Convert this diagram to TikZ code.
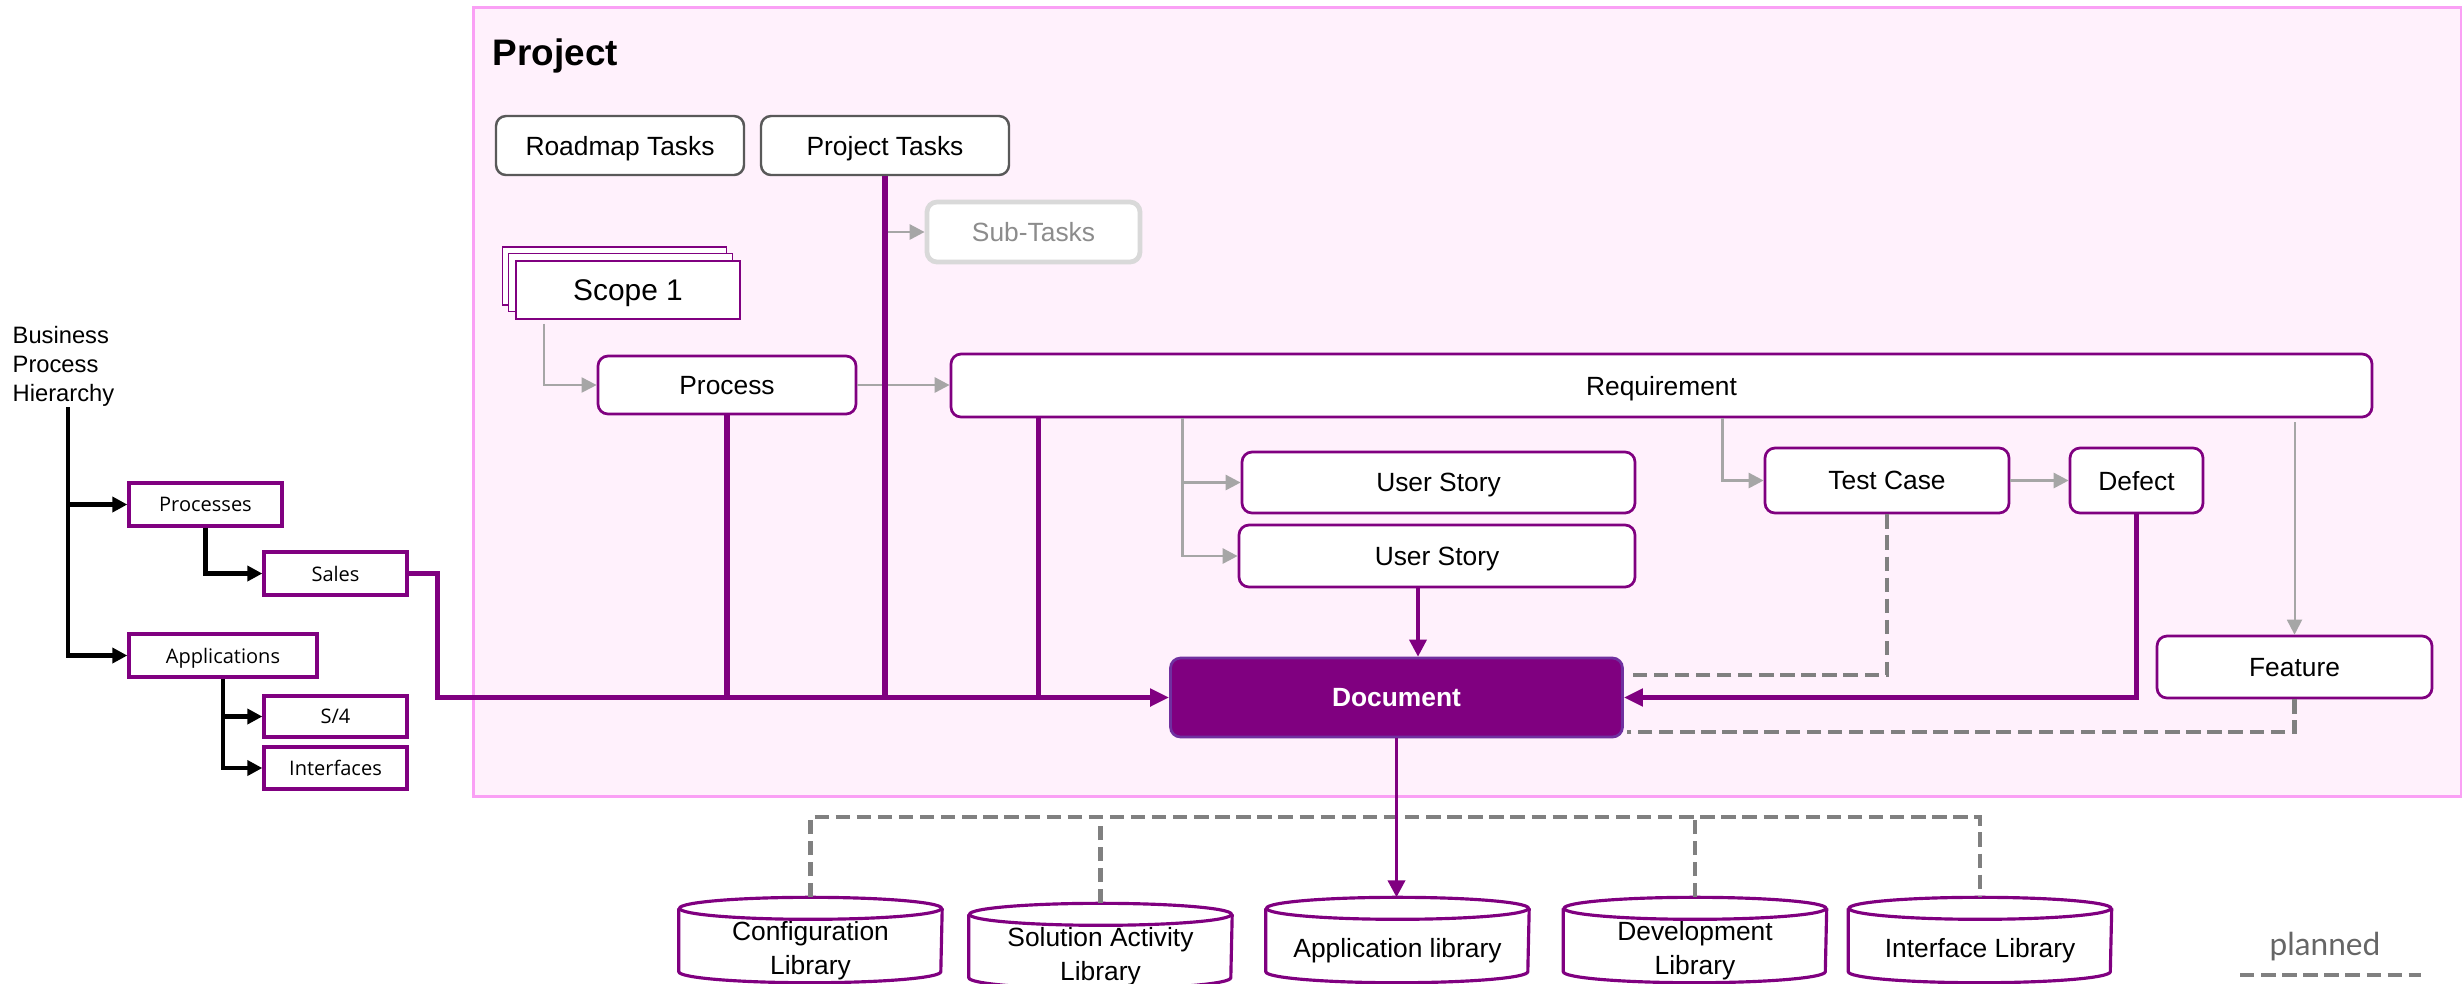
\documentclass[tikz,border=0pt]{standalone}
\usepackage{fontspec}
\setmainfont{Liberation Sans}
\newfontfamily\treefont{Open Sans}
\newfontfamily\legendfont{Lato}
\usepackage{xcolor}
\usetikzlibrary{positioning,calc,arrows.meta}
\definecolor{BPPurple}{RGB}{128,0,128}
\definecolor{DocEdge}{RGB}{112,48,160}
\definecolor{FrameFill}{RGB}{255,241,252}
\definecolor{FrameEdge}{RGB}{250,160,245}
\definecolor{ArrowGray}{RGB}{166,166,166}
\definecolor{PlanGray}{RGB}{128,128,128}
\definecolor{TaskGray}{RGB}{89,89,89}
\definecolor{SubGray}{RGB}{217,217,217}
\definecolor{SubText}{RGB}{140,140,140}
\definecolor{LegendText}{RGB}{102,102,102}
\tikzset{
    box/.style={rectangle, rounded corners=0.1cm, draw=BPPurple, fill=white, line width=0.77pt, inner sep=0pt, text depth=0pt, align=center, font=\fontsize{7.5}{9.7}\selectfont},
    taskbox/.style={box, draw=TaskGray, line width=0.7pt},
    scopebox/.style={rectangle, draw=BPPurple, fill=white, line width=0.45pt, inner sep=0pt, text depth=0pt, minimum width=2.24cm, minimum height=0.58cm},
    treebox/.style={rectangle, draw=BPPurple, fill=white, line width=0.95pt, inner sep=0pt, text depth=0pt, font=\treefont\fontsize{5.7}{7}\selectfont},
    lib/.style={rectangle, inner sep=0pt, minimum width=2.62cm, minimum height=0.62cm, align=center, font=\fontsize{7.5}{9.7}\selectfont}
}

\begin{document}
\begin{tikzpicture}[
        % --- LINES ---
        bus/.style={draw=BPPurple, line width=1.55pt},
        bustip/.style={-{Triangle[length=0.19cm,width=0.17cm]}},
        feed/.style={draw=BPPurple, line width=1pt, -{Triangle[length=0.17cm,width=0.17cm]}},
        grayarrow/.style={draw=ArrowGray, line width=0.8pt, -{Triangle[length=0.15cm,width=0.15cm]}},
        thingray/.style={grayarrow, line width=0.57pt},
        treeline/.style={draw=black, line width=1.4pt, -{Triangle[length=0.15cm,width=0.15cm]}},
        planned/.style={draw=PlanGray, line width=1.35pt, dash pattern=on 4.1pt off 1.9pt},
        libline/.style={draw=BPPurple, line width=0.9pt}
    ]
    \useasboundingbox (0,0) rectangle (24.62,-9.83);

    % --- KHUNG PROJECT ---
    \node[draw=FrameEdge, fill=FrameFill, line width=0.9pt, minimum width=19.88cm, minimum height=7.89cm, inner sep=0pt, anchor=north west] (frame) at (4.72,-0.06) {};
    \node[anchor=base west, inner sep=0pt, font=\bfseries\fontsize{10.5}{12}\selectfont] (projlabel) at (4.92,-0.65) {Project};

    % --- TASKS ---
    \node[taskbox, minimum width=2.48cm, minimum height=0.59cm] (roadmap) at (6.20,-1.455) {Roadmap Tasks};
    \node[taskbox, minimum width=2.48cm, minimum height=0.59cm] (ptasks) at (8.85,-1.455) {Project Tasks};
    \node[box, draw=SubGray, line width=1.35pt, text=SubText, minimum width=2.13cm, minimum height=0.60cm] (subtasks) at (10.335,-2.32) {Sub-Tasks};

    % --- SCOPE (3 lop) ---
    \node[scopebox] (scopeB) at (6.145,-2.76) {};
    \node[scopebox] (scopeM) at (6.205,-2.825) {};
    \node[scopebox, font=\fontsize{8.5}{10}\selectfont] (scope) at (6.28,-2.90) {Scope 1};

    % --- PROCESS / REQUIREMENT ---
    \node[box, minimum width=2.58cm, minimum height=0.58cm] (process) at (7.27,-3.85) {Process};
    \node[box, minimum width=14.21cm, minimum height=0.63cm] (req) at (16.615,-3.855) {Requirement};
    \node[box, minimum width=3.93cm, minimum height=0.61cm] (us1) at (14.385,-4.825) {User Story};
    \node[box, minimum width=3.96cm, minimum height=0.62cm] (us2) at (14.37,-5.56) {User Story};
    \node[box, minimum width=2.44cm, minimum height=0.65cm] (test) at (18.87,-4.805) {Test Case};
    \node[box, minimum width=1.33cm, minimum height=0.65cm] (defect) at (21.365,-4.805) {Defect};
    \node[box, minimum width=2.75cm, minimum height=0.62cm] (feature) at (22.945,-6.67) {Feature};
    \node[box, fill=BPPurple, draw=DocEdge, text=white, font=\bfseries\fontsize{7.5}{9.7}\selectfont, minimum width=4.52cm, minimum height=0.79cm] (doc) at (13.965,-6.975) {Document};

    % --- BUSINESS PROCESS HIERARCHY ---
    \node[anchor=west, align=left, inner sep=0pt, font=\fontsize{6.75}{8.2}\selectfont] (bph) at (0.12,-3.665) {Business\\Process\\Hierarchy};
    \node[treebox, minimum width=1.53cm, minimum height=0.43cm] (procs) at (2.055,-5.045) {Processes};
    \node[treebox, minimum width=1.43cm, minimum height=0.43cm] (sales) at (3.355,-5.735) {Sales};
    \node[treebox, minimum width=1.88cm, minimum height=0.43cm] (apps) at (2.23,-6.555) {Applications};
    \node[treebox, minimum width=1.43cm, minimum height=0.41cm] (s4) at (3.355,-7.165) {S/4};
    \node[treebox, minimum width=1.43cm, minimum height=0.42cm] (ifaces) at (3.355,-7.68) {Interfaces};
    \coordinate (trunk) at (0.68,-4.07);

    % --- THU VIEN (tru) ---
    \node[lib] (cfg) at (8.105,-9.51) {Configuration\\Library};
    \node[lib] (sol) at (11.005,-9.57) {Solution Activity\\Library};
    \node[lib] (app) at (13.975,-9.51) {Application library};
    \node[lib] (dev) at (16.95,-9.51) {Development\\Library};
    \node[lib] (itf) at (19.80,-9.51) {Interface Library};
    \foreach \lib in {cfg,sol,app,dev,itf} {
        \draw[libline] ([yshift=0.11cm]\lib.north west) -- ([yshift=0.11cm]\lib.south west)
            arc[start angle=180, end angle=360, x radius=1.31cm, y radius=0.11cm]
            -- ([yshift=0.11cm]\lib.north east);
        \draw[libline] ([yshift=0.11cm]\lib.north) ellipse[x radius=1.31cm, y radius=0.11cm];
        \coordinate (top\lib) at ([yshift=0.22cm]\lib.north);
    }

    % --- LEGEND ---
    \node[inner sep=0pt, text=LegendText, font=\legendfont\fontsize{9}{11}\selectfont] (legend) at (23.25,-9.47) {planned};
    \coordinate (legA) at (22.40,-9.75);
    \coordinate (legB) at (24.21,-9.75);
    \draw[planned] (legA) -- (legB);

    % --- DIEM RE ---
    \coordinate (salesbend) at ($(sales.east)+(0.29,0)$);
    \coordinate (scopedrop) at ($(scope.south west)+(0.29,-0.04)$);
    \coordinate (reqdrop) at ($(req.south west)+(0.89,0)$);
    \coordinate (storydrop) at ($(req.south west)+(2.33,0)$);
    \coordinate (testdrop) at ($(req.south west)+(7.73,0)$);
    \coordinate (featdrop) at ($(feature.north |- req.south)+(0,-0.04)$);
    \coordinate (us2drop) at ($(us2.south)+(-0.19,0)$);
    \coordinate (testjoin) at ($(doc.east)+(0.03,0.225)$);
    \coordinate (featjoin) at ($(doc.east)+(0.03,-0.345)$);
    \coordinate (libbus) at (0,-8.17);

    % --- CAY BEN TRAI ---
    \draw[treeline] (trunk) |- (apps.west);
    \draw[treeline] (trunk |- procs.west) -- (procs.west);
    \draw[treeline] (procs.south) |- (sales.west);
    \draw[treeline] (apps.south) |- (ifaces.west);
    \draw[treeline] (apps.south |- s4.west) -- (s4.west);

    % --- MUI TEN XAM ---
    \draw[grayarrow] (ptasks.south |- subtasks.west) -- (subtasks.west);
    \draw[thingray] (scopedrop) |- (process.west);
    \draw[grayarrow] (process.east) -- (process.east -| req.west);
    \draw[grayarrow] (storydrop) |- (us1.west);
    \draw[grayarrow] (storydrop) |- (us2.west);
    \draw[grayarrow] (testdrop) |- (test.west);
    \draw[grayarrow] (test.east) -- (defect.west);
    \draw[thingray] (featdrop) -- (feature.north);

    % --- PLANNED (net dut) ---
    \draw[planned] (test.south) |- (testjoin);
    \draw[planned] (feature.south) |- (featjoin);
    \draw[planned] (topcfg) |- (libbus -| topitf) -- (topitf);
    \draw[planned] (topsol) -- (topsol |- libbus);
    \draw[planned] (topdev) -- (topdev |- libbus);

    % --- DUONG TIM ---
    \draw[bus] (process.south) -- (process.south |- doc.west);
    \draw[bus] (ptasks.south) -- (ptasks.south |- doc.west);
    \draw[bus] (reqdrop) -- (reqdrop |- doc.west);
    \draw[bus, bustip] (sales.east) -- (salesbend) |- (doc.west);
    \draw[bus, bustip] (defect.south) |- (doc.east);
    \draw[feed] (us2drop) -- (us2drop |- doc.north);
    \draw[feed, line width=1.1pt] (doc.south) -- (doc.south |- topapp);

\end{tikzpicture}
\end{document}
